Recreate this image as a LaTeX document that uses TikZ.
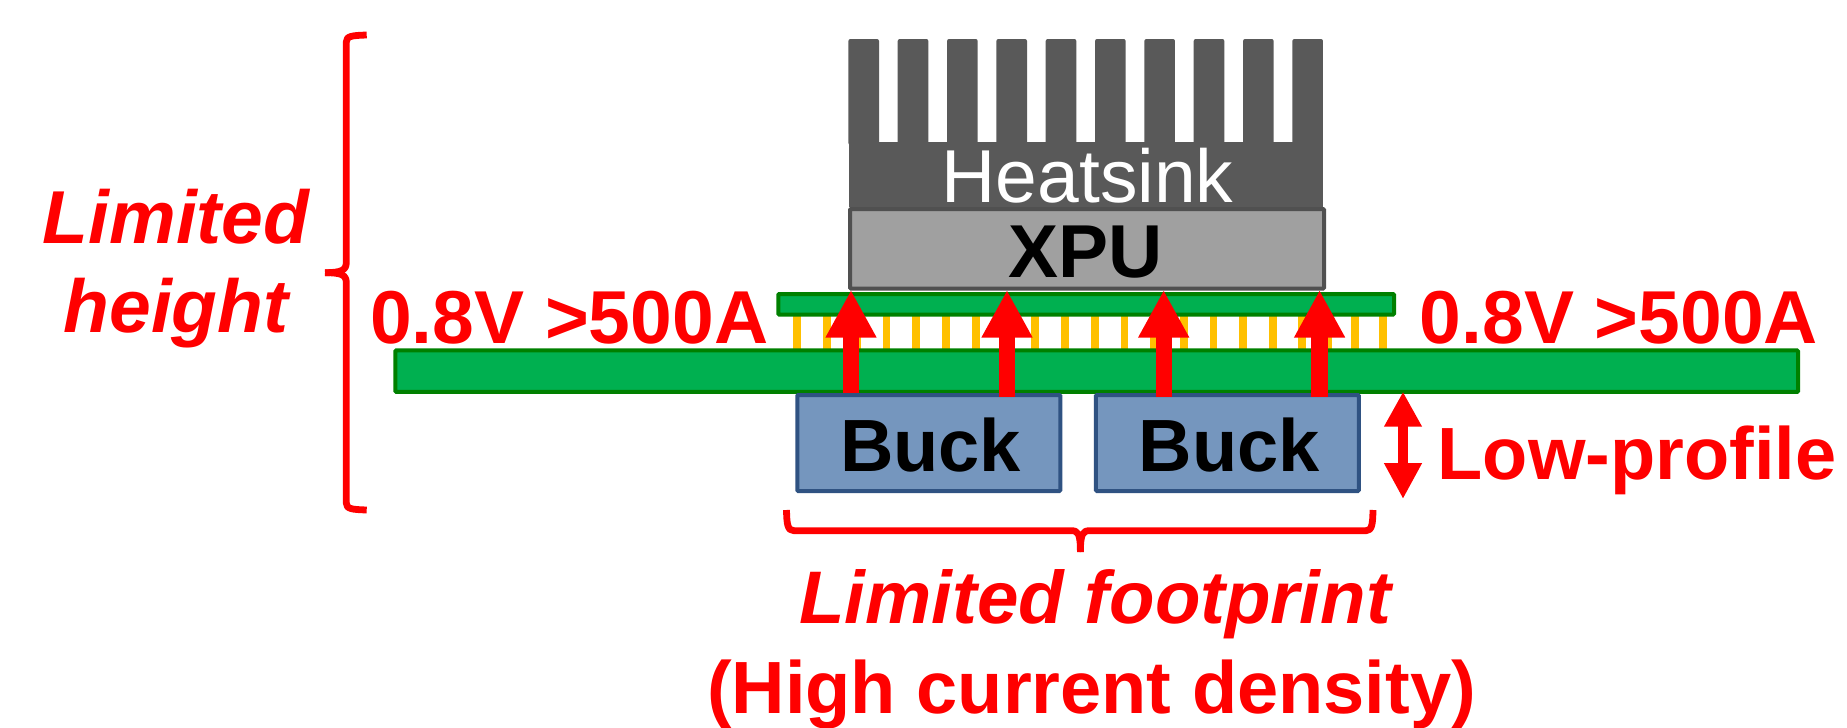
\documentclass[tikz,border=0pt]{standalone}
\usepackage{fontspec}
\setmainfont{Liberation Sans}
\usetikzlibrary{arrows.meta}
\definecolor{pcbfill}{HTML}{00B050}
\definecolor{pcbline}{HTML}{008000}
\definecolor{pincol}{HTML}{FFC000}
\definecolor{sinkc}{HTML}{595959}
\definecolor{xpufill}{HTML}{A0A0A0}
\definecolor{xpuline}{HTML}{505050}
\definecolor{buckfill}{HTML}{7596BE}
\definecolor{buckline}{HTML}{2F5282}
\tikzset{
  x=1pt,y=-1pt,
  sbox/.style={draw,line width=4pt,inner sep=0pt,outer sep=0pt,rounded corners=1pt,align=center},
  pcb/.style={sbox,draw=pcbline,fill=pcbfill},
  buckbox/.style={sbox,draw=buckline,fill=buckfill,minimum width=263pt,minimum height=96pt,font=\fontsize{74}{90}\selectfont\bfseries,text=black,text height=57.4pt,text depth=0pt},
  lbl/.style={text=red,inner sep=0pt,outer sep=0pt,anchor=base,align=center},
  pwr/.style={draw=red,line width=16.3pt,-{Triangle[length=47.5pt,width=47.5pt]}},
  lowarrow/.style={draw=red,line width=10pt,{Triangle[length=35pt,width=35.5pt]}-{Triangle[length=36pt,width=35.5pt]}},
  bracket/.style={draw=red,line width=6.8pt,line join=round}
}
\begin{document}
\begin{tikzpicture}
\useasboundingbox (0,0) rectangle (1847,728);
% heatsink fins
\foreach \k in {0,...,9}{
  \fill[sinkc,rounded corners=2pt] ({848.4+49.33*\k},145) -- ({848.4+49.33*\k},39) -- ({879+49.33*\k},39) -- ({879+49.33*\k},145) -- cycle;
}
\node[fill=sinkc,inner sep=0pt,outer sep=0pt,minimum width=474.5pt,minimum height=65pt,font=\fontsize{75}{90}\selectfont,text=white,text height=55.6pt,text depth=0pt] (sink) at (1085.75,174.5) {\hspace*{3.5pt}Heatsink};
% pins
\foreach \px in {91,164,237,310,383,456,529,602,674,747,820,893,965,1039,1111,1184,1257,1327,1393,1458,1527}{
  \fill[pincol] ({760+\px/2.45-3.9},314) rectangle ({760+\px/2.45+3.9},351);
}
\node[pcb,minimum width=615.7pt,minimum height=20.5pt] (small) at (1086.15,304.25) {};
\node[pcb,minimum width=1402.7pt,minimum height=41.5pt] (board) at (1096.65,371.15) {};
\node[sbox,draw=xpuline,fill=xpufill,minimum width=474pt,minimum height=79.5pt,font=\fontsize{75}{90}\selectfont\bfseries,text=black,text height=57pt,text depth=0pt] (xpu) at (1087,248.75) {XPU\hspace*{2pt}};
\node[buckbox] (buckA) at (928.75,443) {\hspace*{3.7pt}Buck};
\node[buckbox] (buckB) at (1227.35,443) {\hspace*{4pt}Buck};
% power arrows
\coordinate (s1) at (851,393.3);
\coordinate (e1) at (851,290);
\coordinate (s2) at (1007,397);
\coordinate (e2) at (1007,290);
\coordinate (s3) at (1163.7,397);
\coordinate (e3) at (1163.7,290);
\coordinate (s4) at (1319.6,397);
\coordinate (e4) at (1319.6,290);
\draw[pwr] (s1) -- (e1);
\draw[pwr] (s2) -- (e2);
\draw[pwr] (s3) -- (e3);
\draw[pwr] (s4) -- (e4);
% low-profile arrow
\coordinate (lowtop) at (1403,391.7);
\coordinate (lowbot) at (1403,499);
\draw[lowarrow] (lowtop) -- (lowbot);
% left bracket
\draw[bracket] (366.7,35) .. controls (352,35.5) and (346.3,36) .. (346.3,42) -- (346.3,262)
  .. controls (346.3,270) and (342,272.7) .. (325,272.7);
\draw[bracket] (325,272.7) .. controls (342,272.7) and (346.3,275) .. (346.3,283) -- (346.3,503)
  .. controls (346.3,509) and (352,509.5) .. (366.7,510);
% bottom bracket
\draw[bracket] (786.5,510) .. controls (786.8,524) and (787.5,530.7) .. (794,530.7) -- (1071,530.7)
  .. controls (1078,530.7) and (1080.4,533) .. (1080.4,552);
\draw[bracket] (1080.4,552) .. controls (1080.4,533) and (1083,530.7) .. (1090,530.7) -- (1366,530.7)
  .. controls (1372,530.7) and (1372.7,524) .. (1373,510);
% labels
\node[lbl,font=\fontsize{75}{90}\selectfont\bfseries] (vL) at (569.2,343.3) {0.8V >500A};
\node[lbl,font=\fontsize{75}{90}\selectfont\bfseries] (vR) at (1618.9,343) {0.8V >500A};
\node[lbl,font=\fontsize{74}{90}\selectfont\bfseries] (low) at (1637,479) {Low-profile};
\node[lbl,font=\fontsize{75}{90}\selectfont\bfseries\itshape] (lh1) at (176,243.3) {Limited};
\node[lbl,font=\fontsize{75}{90}\selectfont\bfseries\itshape] (lh2) at (176,332.7) {height};
\node[lbl,font=\fontsize{74.5}{90}\selectfont\bfseries\itshape] (lf) at (1095,623.3) {Limited footprint};
\node[lbl,font=\fontsize{74}{90}\selectfont\bfseries] (hc) at (1091.5,713) {(High current density)};
\end{tikzpicture}
\end{document}
